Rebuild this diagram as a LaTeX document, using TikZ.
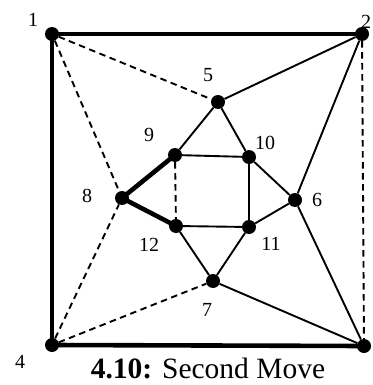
\documentclass[tikz,border=0pt]{standalone}
\usepackage{fontspec}
\setmainfont{Liberation Serif}
\usepackage{tikz}
\usetikzlibrary{calc,positioning}
\tikzset{
  dot/.style={circle,fill=black,inner sep=0pt,minimum size=14pt},
  lab/.style={font=\fontsize{20}{20}\selectfont,inner sep=1pt},
  frame/.style={line width=4.6pt},
  edge/.style={line width=1.9pt},
  hidden/.style={line width=1.9pt,dash pattern=on 6.5pt off 4.5pt}
}

\begin{document}
\begin{tikzpicture}[x=1pt,y=-1pt]
\useasboundingbox (0,0) rectangle (372,385);
% outer square
\node[dot] (v1) at (52,34) {};
\node[dot] (v2) at (362,34) {};
\node[dot] (v3) at (364,346) {};
\node[dot] (v4) at (52,345) {};
% inner part
\node[dot] (v5) at (218,102) {};
\node[dot] (v6) at (295,200) {};
\node[dot] (v7) at (213,281) {};
\node[dot] (v8) at (122,198) {};
\node[dot] (v9) at (175,155) {};
\node[dot] (v10) at (249,157) {};
\node[dot] (v11) at (249,227) {};
\node[dot] (v12) at (176,226) {};
% labels
\node[lab] at (33,20) {1};
\node[lab] at (366,22) {2};
\node[lab] at (20,362) {4};
\node[lab] at (208,75) {5};
\node[lab] at (317,200) {6};
\node[lab] at (207,310) {7};
\node[lab] at (87,196) {8};
\node[lab] at (149,135) {9};
\node[lab] at (265,143) {10};
\node[lab] at (271,244) {11};
\node[lab] at (149,245) {12};
% edges
\draw[frame] (v4.center) -- (v1.center) -- (v2.center);
\draw[frame] (v4.center) -- (v3.center);
\draw[frame] (v9.center) -- (v8.center) -- (v12.center);
\draw[hidden] (v1) -- (v5) (v1) -- (v8) (v4) -- (v8) (v4) -- (v7)
  (v2) -- (v3) (v9) -- (v12);
\draw[edge] (v5) -- (v2) (v5) -- (v9) (v5) -- (v10) (v9) -- (v10)
  (v10) -- (v11) (v11) -- (v12) (v10) -- (v6) (v11) -- (v6)
  (v11) -- (v7) (v12) -- (v7) (v2) -- (v6) (v6) -- (v3) (v7) -- (v3);
\node[font=\fontsize{29.5}{29.5}\selectfont,inner sep=0pt] (cap) at (208,368)
  {\textbf{4.10:} Second Move};
\end{tikzpicture}
\end{document}
